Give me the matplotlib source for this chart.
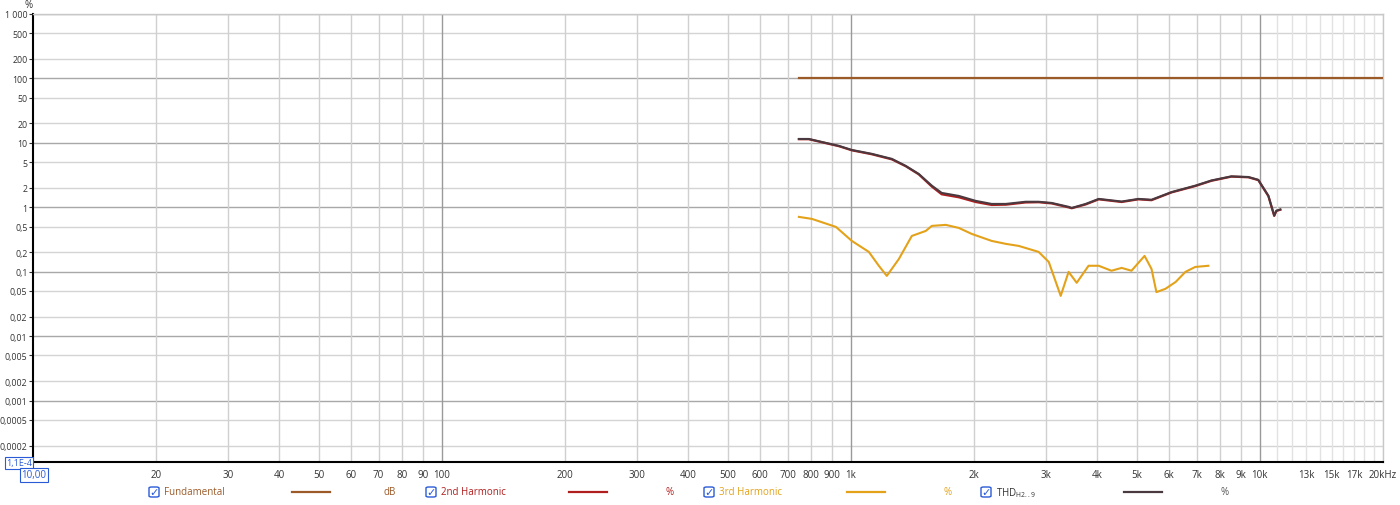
import numpy as np
import matplotlib.pyplot as plt
from matplotlib.patches import FancyBboxPatch

plt.rcParams['font.family'] = ['Open Sans', 'DejaVu Sans']

# ---- data ----
fund_f = [746, 20000]
fund_v = [100, 100]

thd_f = [746, 789, 869, 935, 1005, 1125, 1259, 1362, 1465, 1577, 1667, 1836,
         2018, 2208, 2392, 2673, 2877, 3097, 3406, 3467, 3750, 4036, 4592,
         5047, 5432, 6081, 6950, 7614, 8517, 9376, 9910, 10490, 10840, 10970, 11220]
thd_v = [11.4, 11.4, 9.9, 8.9, 7.7, 6.7, 5.6, 4.35, 3.27, 2.15, 1.66, 1.49,
         1.25, 1.12, 1.12, 1.21, 1.21, 1.16, 1.01, 0.97, 1.12, 1.34, 1.22,
         1.34, 1.30, 1.71, 2.15, 2.59, 3.0, 2.93, 2.65, 1.50, 0.74, 0.88, 0.92]

h2_f = thd_f
h2_v = [11.3, 11.3, 9.8, 8.8, 7.6, 6.6, 5.5, 4.3, 3.22, 2.08, 1.58, 1.42,
        1.2, 1.08, 1.09, 1.18, 1.19, 1.14, 0.99, 0.96, 1.1, 1.32, 1.2,
        1.32, 1.28, 1.69, 2.12, 2.56, 2.97, 2.9, 2.62, 1.48, 0.73, 0.87, 0.91]

h3_f = [746, 803, 919, 1005, 1106, 1170, 1224, 1310, 1409, 1524, 1577, 1706,
        1836, 1974, 2208, 2392, 2572, 2877, 3046, 3258, 3406, 3565, 3811, 4036,
        4335, 4592, 4853, 5224, 5432, 5585, 5875, 6223, 6577, 6950, 7482]
h3_v = [0.705, 0.656, 0.493, 0.299, 0.202, 0.123, 0.0857, 0.157, 0.357, 0.427,
        0.511, 0.530, 0.475, 0.384, 0.299, 0.269, 0.250, 0.202, 0.141, 0.042,
        0.099, 0.067, 0.123, 0.123, 0.103, 0.114, 0.103, 0.175, 0.110, 0.048,
        0.054, 0.069, 0.099, 0.118, 0.123]

y_ticks = [1000, 500, 200, 100, 50, 20, 10, 5, 2, 1, 0.5, 0.2, 0.1, 0.05, 0.02,
           0.01, 0.005, 0.002, 0.001, 0.0005, 0.0002]
y_labels = ['1 000', '500', '200', '100', '50', '20', '10', '5', '2', '1', '0,5',
            '0,2', '0,1', '0,05', '0,02', '0,01', '0,005', '0,002', '0,001',
            '0,0005', '0,0002']
x_ticks = [20, 30, 40, 50, 60, 70, 80, 90, 100, 200, 300, 400, 500, 600, 700,
           800, 900, 1000, 2000, 3000, 4000, 5000, 6000, 7000, 8000, 9000, 10000,
           13000, 15000, 17000, 20000]
x_labels = ['20', '30', '40', '50', '60', '70', '80', '90', '100', '200', '300',
            '400', '500', '600', '700', '800', '900', '1k', '2k', '3k', '4k', '5k',
            '6k', '7k', '8k', '9k', '10k', '13k', '15k', '17k', '20kHz']

c_fund = '#9c5a28'
c_h2 = '#b01e1e'
c_h3 = '#e3a21a'
c_thd = '#4a3a40'
c_box = '#2a5bd7'

fig = plt.figure(figsize=(14, 5.06), dpi=100)
ax = fig.add_axes([33/1400, 1-463.3/506, 1350/1400, (463.3-14.7)/506])
ax.set_xscale('log')
ax.set_yscale('log')
ax.set_xlim(10, 20000)
ax.set_ylim(1.1e-4, 1000)

# grid
for v in y_ticks:
    dec = abs(np.log10(v) - round(np.log10(v))) < 1e-6
    ax.axhline(v, color='#a8a8a8' if dec else '#d4d4d4', lw=1, zorder=0)
xs = [m * 10**d for d in range(1, 4) for m in range(1, 10)] + list(range(10000, 20001, 1000))
for v in xs:
    if v <= 10:
        continue
    if v in (100, 1000, 10000):
        col = '#9a9a9a'
    elif v > 10000:
        col = '#e2e2e2'
    else:
        col = '#d0d0d0'
    ax.axvline(v, color=col, lw=1, zorder=0)

ax.plot(fund_f, fund_v, color=c_fund, lw=1.6, zorder=3)
ax.plot(h3_f, h3_v, color=c_h3, lw=1.5, zorder=3)
ax.plot(h2_f, h2_v, color=c_h2, lw=1.6, zorder=3)
ax.plot(thd_f, thd_v, color=c_thd, lw=1.5, zorder=4)

ax.set_yticks(y_ticks)
ax.set_yticklabels(y_labels)
ax.yaxis.set_minor_locator(plt.NullLocator())
ax.set_xticks(x_ticks)
ax.set_xticklabels(x_labels)
ax.xaxis.set_minor_locator(plt.NullLocator())
for lab, v in zip(ax.get_xticklabels(), x_ticks):
    if v in (13000, 15000, 17000):
        lab.set_color('#a0a0a0')
ax.tick_params(axis='y', labelsize=6.3, length=3, width=0.8, pad=1, colors='#333333')
ax.tick_params(axis='x', labelsize=7, length=0, pad=5, colors='#333333')

for s in ('top', 'right'):
    ax.spines[s].set_color('#c8c8c8')
    ax.spines[s].set_linewidth(1)
for s in ('left', 'bottom'):
    ax.spines[s].set_color('black')
    ax.spines[s].set_linewidth(1.5)

fig.text(29/1400, 1-6/506, '%', fontsize=7, ha='center', va='center', color='#333333')
fig.text(19/1400, 1-464/506, '1,1E-4', fontsize=6.5, ha='center', va='center', color=c_box,
         bbox=dict(boxstyle='square,pad=0.15', fc='white', ec=c_box, lw=0.8))
fig.text(34/1400, 1-476/506, '10,00', fontsize=7, ha='center', va='center', color=c_box,
         bbox=dict(boxstyle='square,pad=0.15', fc='white', ec=c_box, lw=0.8))

# legend row
legend = [
    (154, 'Fundamental', c_fund, 'dB', 390),
    (431, '2nd Harmonic', c_h2, '%', 670),
    (709, '3rd Harmonic', c_h3, '%', 948),
    (986, None, c_thd, '%', 1225),
]
ly = 1 - 493/506
for x0, name, col, unit, ux in legend:
    box = FancyBboxPatch(((x0-5)/1400, ly - 5/506), 10/1400, 10/506,
                         boxstyle='round,pad=0,rounding_size=0.002',
                         transform=fig.transFigure, fc='white', ec=c_box, lw=1)
    fig.patches.append(box)
    fig.text(x0/1400, ly, '\u2713', fontsize=8, ha='center', va='center', color=c_box,
             family=['DejaVu Sans'])
    if name:
        fig.text((x0+10)/1400, ly, name, fontsize=7, ha='left', va='center', color=col)
        tcol = col
    else:
        fig.text((x0+10)/1400, ly, r'THD$_{\mathregular{H2..9}}$', fontsize=7, ha='left',
                 va='center', color='#333333')
        tcol = '#555555'
    lx = x0 + 138
    fig.add_artist(plt.Line2D([lx/1400, (lx+38)/1400], [ly, ly], color=col, lw=1.6,
                              transform=fig.transFigure))
    fig.text(ux/1400, ly, unit, fontsize=7, ha='center', va='center', color=tcol)

fig.savefig('out.png', dpi=100)
